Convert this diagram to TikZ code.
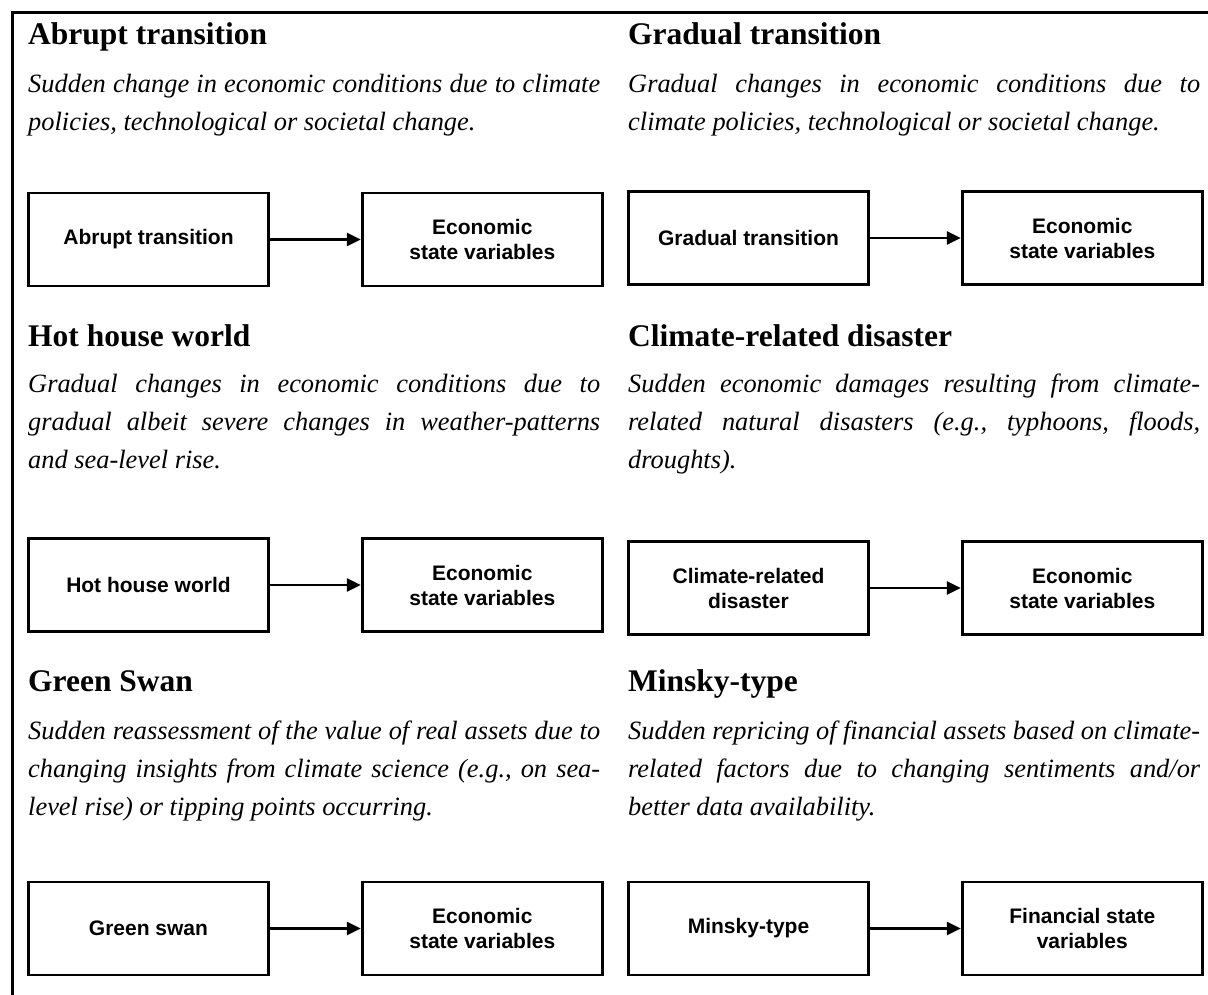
\documentclass[tikz,border=0pt]{standalone}
\usepackage{fontspec}
\setmainfont{Liberation Serif}
\setsansfont{Liberation Sans}
\usetikzlibrary{positioning,arrows.meta}
\frenchspacing

\begin{document}
\begin{tikzpicture}[x=1pt,y=1pt,
  titulo/.style={anchor=base west, inner sep=0pt, font=\fontsize{31.5}{38}\selectfont\bfseries},
  texto/.style={anchor=base west, inner sep=0pt, text width=572pt, align=justify,
    font=\fontsize{26.4}{38}\selectfont\itshape},
  caixa/.style={draw, line width=2.8pt, minimum width=240pt, minimum height=93pt, align=center,
    font=\fontsize{21}{25}\selectfont\sffamily\bfseries},
  seta/.style={line width=2.6pt, -{Triangle[length=14pt,width=13pt]}}]
  \useasboundingbox (0,0) rectangle (1208,-995);
  % moldura
  \draw[line width=3pt] (12,-995) -- (12,-13) -- (1208,-13);
  % transicao abrupta
  \node[titulo] (tit-ab) at (28,-45) {Abrupt transition};
  \node[texto] (txt-ab) at (28,-93) {Sudden change in economic conditions due to climate\linebreak
    policies, technological or societal change.};
  \node[caixa] (ab) at (148.5,-239.5) {Abrupt transition};
  \node[caixa, right=91pt of ab] (ab-eco) {Economic\\state variables};
  \draw[seta] (ab) -- (ab-eco);
  % hot house world
  \node[titulo] (tit-hh) at (28,-346) {Hot house world};
  \node[texto] (txt-hh) at (28,-392) {Gradual changes in economic conditions due to\linebreak
    gradual albeit severe changes in weather-patterns\linebreak and sea-level rise.};
  \node[caixa] (hh) at (148.5,-585) {Hot house world};
  \node[caixa, right=91pt of hh] (hh-eco) {Economic\\state variables};
  \draw[seta] (hh) -- (hh-eco);
  % green swan
  \node[titulo] (tit-gs) at (28,-691) {Green Swan};
  \node[texto] (txt-gs) at (28,-739) {Sudden reassessment of the value of real assets due to\linebreak
    changing insights from climate science (e.g., on sea-\linebreak level rise) or tipping points occurring.};
  \node[caixa] (gs) at (148.5,-928.5) {Green swan};
  \node[caixa, right=91pt of gs] (gs-eco) {Economic\\state variables};
  \draw[seta] (gs) -- (gs-eco);
  % coluna da direita
  \begin{scope}[xshift=600pt]
  \node[titulo] (tit-gr) at (28,-45) {Gradual transition};
  \node[texto] (txt-gr) at (28,-93) {Gradual changes in economic conditions due to\linebreak
    climate policies, technological or societal change.};
  \node[caixa] (gr) at (148.5,-238) {Gradual transition};
  \node[caixa, right=91pt of gr] (gr-eco) {Economic\\state variables};
  \draw[seta] (gr) -- (gr-eco);
  % desastre climatico
  \node[titulo] (tit-cd) at (28,-346) {Climate-related disaster};
  \node[texto] (txt-cd) at (28,-392) {Sudden economic damages resulting from climate-\linebreak
    related natural disasters (e.g., typhoons, floods,\linebreak droughts).};
  \node[caixa] (cd) at (148.5,-588) {Climate-related\\disaster};
  \node[caixa, right=91pt of cd] (cd-eco) {Economic\\state variables};
  \draw[seta] (cd) -- (cd-eco);
  % minsky
  \node[titulo] (tit-mk) at (28,-691) {Minsky-type};
  \node[texto] (txt-mk) at (28,-739) {Sudden repricing of financial assets based on climate-\linebreak
    related factors due to changing sentiments and/or\linebreak better data availability.};
  \node[caixa] (mk) at (148.5,-928.5) {Minsky-type};
  \node[caixa, right=91pt of mk] (mk-fin) {Financial state\\variables};
  \draw[seta] (mk) -- (mk-fin);
  \end{scope}
\end{tikzpicture}
\end{document}
